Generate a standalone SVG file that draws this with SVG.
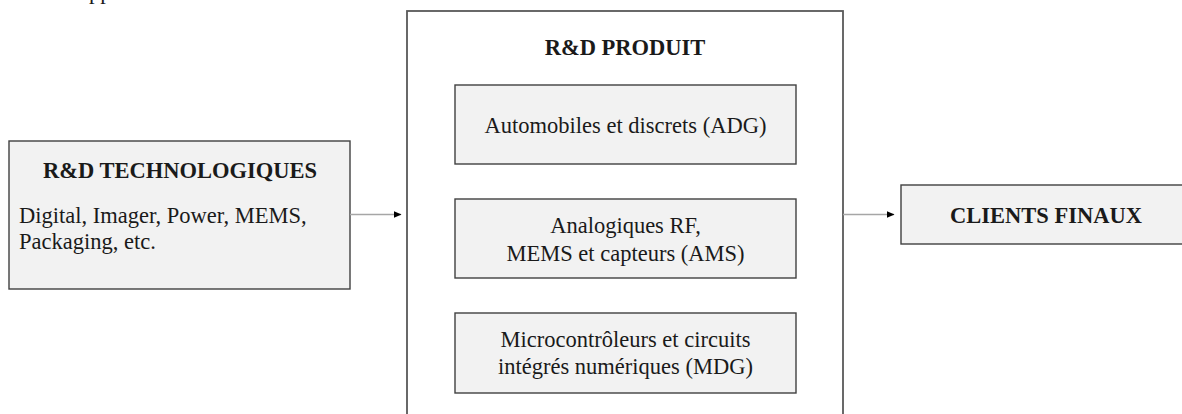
<svg xmlns="http://www.w3.org/2000/svg" width="1182" height="414" viewBox="0 0 1182 414">
<style>
.box{fill:#f2f2f2;stroke:#404040;stroke-width:1.4}
.outer{fill:#ffffff;stroke:#595959;stroke-width:1.8}
.t{font-family:"Liberation Serif","Times New Roman",serif;font-size:22.5px;fill:#1a1a1a}
.b{font-weight:bold}
.c{text-anchor:middle}
.conn{stroke:#a6a6a6;stroke-width:1.6;fill:none}
</style>
<defs>
<marker id="ah" markerWidth="8" markerHeight="8" refX="7" refY="4" orient="auto" markerUnits="userSpaceOnUse">
<path d="M0,0.8 L7.5,4 L0,7.2 Z" fill="#000"/>
</marker>
</defs>
<text class="t" x="89" y="-1">pp</text>
<g id="rd-tech">
<rect class="box" x="9" y="141" width="341" height="148"/>
<text class="t b c" x="180" y="178">R&amp;D TECHNOLOGIQUES</text>
<text class="t" x="19" y="223">Digital, Imager, Power, MEMS,</text>
<text class="t" x="19" y="249">Packaging, etc.</text>
</g>
<g id="rd-produit">
<rect class="outer" x="407" y="11" width="436" height="420"/>
<text class="t b c" x="625" y="55">R&amp;D PRODUIT</text>
</g>
<g id="adg">
<rect class="box" x="455" y="85" width="341" height="79"/>
<text class="t c" x="625.5" y="133">Automobiles et discrets (ADG)</text>
</g>
<g id="ams">
<rect class="box" x="455" y="199" width="341" height="79"/>
<text class="t c" x="625.5" y="233">Analogiques RF,</text>
<text class="t c" x="625.5" y="261">MEMS et capteurs (AMS)</text>
</g>
<g id="mdg">
<rect class="box" x="455" y="313" width="341" height="80"/>
<text class="t c" x="625.5" y="347">Microcontrôleurs et circuits</text>
<text class="t c" x="625.5" y="374">intégrés numériques (MDG)</text>
</g>
<g id="clients">
<rect class="box" x="901" y="185" width="300" height="59"/>
<text class="t b c" x="1046" y="223">CLIENTS FINAUX</text>
</g>
<g id="connectors">
<line class="conn" x1="350" y1="214.5" x2="401" y2="214.5" marker-end="url(#ah)"/>
<line class="conn" x1="843" y1="214.5" x2="894" y2="214.5" marker-end="url(#ah)"/>
</g>
</svg>
